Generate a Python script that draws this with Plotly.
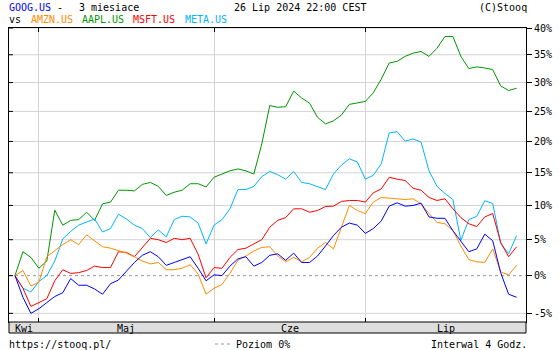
import math
import plotly.graph_objects as go

# ---------------- data (percent change vs. base, one value per trading day) ----------------
days = list(range(64))  # 0 = 25 Apr 2024 close ... 63 = 26 Jul 2024

goog = [0, -2.9, -5.0, -4.4, -3.6, -2.8, -2.3, -0.4, -1.3, -1.3, -1.8, -2.5, -1.1, -0.6, 0.6, 1.8,
        2.8, 3.3, 2.6, 1.4, 1.8, 2.2, 2.6, 1.0, -0.7, 0.1, 0.0, 1.3, 2.3, 2.6, 1.3, 1.8,
        2.8, 3.0, 2.1, 3.1, 1.8, 1.8, 2.7, 4.1, 5.6, 6.8, 7.4, 7.1, 5.9, 6.6, 7.7, 9.9,
        10.4, 9.9, 10.0, 10.35, 8.3, 8.1, 8.1, 6.3, 4.85, 3.3, 3.7, 5.8, 4.85, 0.4, -2.5, -2.9]

amzn = [0, 0.7, -1.4, -0.9, 2.6, 3.5, 4.3, 5.0, 4.3, 5.7, 4.8, 4.0, 3.8, 3.5, 3.1, 2.6,
        2.0, 1.6, 1.8, 0.8, 0.8, 1.0, 1.5, 0.2, -2.5, -1.7, -1.2, 0.3, 2.1, 2.7, 3.4, 3.9,
        4.0, 2.7, 1.9, 2.5, 1.9, 2.5, 3.8, 4.6, 3.7, 6.8, 10.0, 9.25, 8.8, 10.5, 11.2, 11.1,
        11.0, 10.9, 11.0, 10.25, 8.8, 7.5, 7.3, 6.3, 4.1, 2.2, 1.9, 1.8, 3.7, 0.5, 0.1, 1.4]

aapl = [0, 3.3, 2.5, 1.0, 2.0, 9.3, 7.1, 7.8, 7.9, 9.0, 7.8, 10.25, 10.5, 12.3, 12.3, 12.2,
        13.2, 13.5, 12.9, 11.5, 12.0, 12.3, 13.3, 13.3, 12.8, 14.3, 14.8, 15.3, 15.6, 15.3, 14.8, 19.6,
        26.0, 25.7, 25.8, 28.5, 27.3, 26.4, 24.0, 22.9, 23.4, 24.4, 26.2, 26.4, 26.7, 28.2, 30.6, 33.5,
        33.8, 34.7, 35.3, 35.6, 34.7, 36.2, 38.4, 38.4, 34.7, 32.5, 32.8, 32.6, 32.3, 29.4, 28.6, 29.0]

msft = [0, -1.7, -4.1, -3.6, -3.1, -0.7, 0.8, 0.3, 0.4, 0.7, 1.3, 1.1, 1.1, 3.3, 3.2, 2.6,
        3.9, 5.2, 5.0, 4.6, 5.2, 5.0, 5.2, 2.95, -0.3, 1.1, 1.0, 2.5, 3.6, 3.8, 4.4, 5.0,
        6.8, 7.8, 8.2, 9.5, 9.5, 9.0, 9.25, 9.85, 9.9, 10.6, 10.75, 10.75, 10.5, 11.9, 12.5, 14.3,
        14.0, 13.8, 12.6, 12.3, 11.2, 10.75, 11.0, 9.5, 8.2, 7.3, 6.9, 8.3, 8.8, 4.6, 2.6, 4.0]

meta = [0, -1.7, -2.2, -0.8, 0, 2.0, 5.1, 6.2, 7.1, 7.6, 8.0, 6.1, 6.6, 8.7, 8.0, 7.1,
        6.6, 5.3, 6.4, 5.4, 7.9, 8.4, 8.3, 7.4, 4.4, 7.1, 7.9, 9.5, 12.4, 12.4, 12.9, 14.4,
        15.2, 14.7, 14.0, 15.2, 13.5, 13.3, 12.8, 12.4, 14.8, 16.2, 17.2, 16.7, 14.0, 14.6, 16.4, 21.4,
        21.6, 20.05, 20.4, 19.9, 15.3, 12.9, 11.8, 10.9, 4.9, 7.9, 8.4, 10.7, 10.3, 4.5, 3.0, 5.6]

levels = [-5, 0, 5, 10, 15, 20, 25, 30, 35, 40]
level_labels = [f"{v}%" for v in levels]
months = ["Kwi", "Maj", "Cze", "Lip"]
month_starts = [3, 25, 44]
base_level = 0

series = [
    ("AAPL.US", aapl, "#009600"),
    ("META.US", meta, "#00b4ff"),
    ("MSFT.US", msft, "#ff0000"),
    ("AMZN.US", amzn, "#ff8c00"),
    ("GOOG.US", goog, "#0000ff"),
]

# ---------------- layout geometry ----------------
W, H = 560, 350
L, R, T, B = 8, 30, 28, 28
PW, PH = W - L - R, H - T - B
FONT = "DejaVu Sans Mono"

def f(p):
    return 1 + p / 100.0

def px(x):
    return (x - L) / PW

def py(y):
    return (H - B - y) / PH

x_range = [-0.75, 64.18]
y_range = [math.log10(0.9389), math.log10(1.40)]

fig = go.Figure()
for name, vals, col in series:
    fig.add_trace(go.Scatter(x=days, y=[f(v) for v in vals], mode="lines", name=name,
                             line=dict(color=col, width=1), hoverinfo="skip", showlegend=False))

shapes = []
# horizontal grid lines + inner left ticks
for lv in levels:
    if lv != base_level:
        shapes.append(dict(type="line", xref="paper", yref="y", x0=0, x1=1, y0=f(lv), y1=f(lv),
                           line=dict(color="#d4d4d4", width=1), layer="below"))
    shapes.append(dict(type="line", xref="paper", yref="y", x0=0, x1=4 / PW, y0=f(lv), y1=f(lv),
                       line=dict(color="#000000", width=1), layer="above"))
# base level dashed
shapes.append(dict(type="line", xref="paper", yref="y", x0=0, x1=1, y0=f(base_level), y1=f(base_level),
                   line=dict(color="#999999", width=1, dash="3px,3px"), layer="below"))
# month band
shapes.append(dict(type="rect", xref="paper", yref="paper", x0=0, x1=1, y0=-11 / PH, y1=0,
                   fillcolor="#dedede", line=dict(color="#000000", width=1), layer="above"))
# legend dash for Poziom 0%
shapes.append(dict(type="line", xref="paper", yref="paper", x0=px(216), x1=px(234), y0=py(344), y1=py(344),
                   line=dict(color="#999999", width=1, dash="3px,3px")))

ann = []
def txt(x, y, s, color="#000000", anchor="left"):
    ann.append(dict(x=px(x), y=py(y), xref="paper", yref="paper", text=s, showarrow=False,
                    xanchor=anchor, yanchor="middle", font=dict(family=FONT, size=10, color=color),
                    borderpad=0, borderwidth=0))

# month labels centred in each month interval
bounds = [x_range[0]] + month_starts + [x_range[1]]
for i, m in enumerate(months):
    cx = (bounds[i] + bounds[i + 1]) / 2
    ann.append(dict(x=cx, y=py(328), xref="x", yref="paper", text=m, showarrow=False,
                    xanchor="center", yanchor="middle", font=dict(family=FONT, size=10, color="#000000")))

txt(8, 7, "GOOG.US", "#0000ff")
txt(56, 7, "-")
txt(79, 7, "3 miesiace")
txt(235, 7, "26 Lip 2024 22:00 CEST")
txt(531, 7, "(C)Stooq", anchor="right")
txt(8, 19, "vs")
txt(30, 19, "AMZN.US", "#ff8c00")
txt(82, 19, "AAPL.US", "#009600")
txt(133, 19, "MSFT.US", "#ff0000")
txt(186, 19, "META.US", "#00b4ff")
txt(8, 344, "https://stooq.pl/")
txt(237, 344, "Poziom 0%")
txt(531, 344, "Interwal 4 Godz.", anchor="right")

fig.update_layout(
    width=W, height=H, margin=dict(l=L, r=R, t=T, b=B),
    paper_bgcolor="#ffffff", plot_bgcolor="#ffffff",
    shapes=shapes, annotations=ann,
    xaxis=dict(range=x_range, tickvals=month_starts, showticklabels=False, ticks="inside", ticklen=4,
               tickcolor="#000000", showgrid=True, gridcolor="#d4d4d4", gridwidth=1, zeroline=False,
               showline=True, linecolor="#000000", linewidth=1, mirror="ticks", fixedrange=True),
    yaxis=dict(type="log", range=y_range, side="right", tickvals=[f(v) for v in levels], ticktext=level_labels,
               ticks="outside", ticklen=5, tickcolor="#000000", showgrid=False, zeroline=False,
               showline=True, linecolor="#000000", linewidth=1, mirror=True,
               tickfont=dict(family=FONT, size=10, color="#000000"), fixedrange=True),
    font=dict(family=FONT, size=10, color="#000000"),
)

fig.write_html("out.html")
